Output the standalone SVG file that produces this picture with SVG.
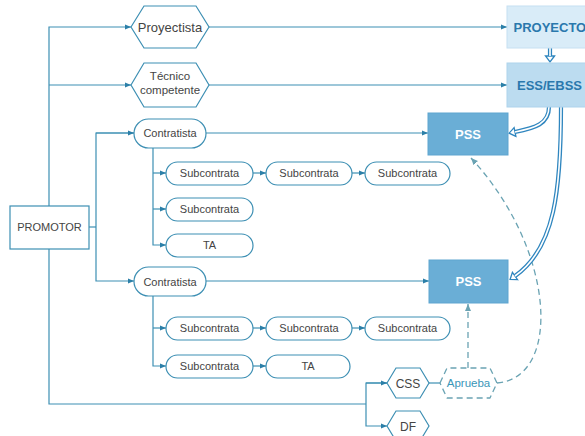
<svg xmlns="http://www.w3.org/2000/svg" width="585" height="436" viewBox="0 0 585 436">
<style>
.n{fill:#fff;stroke:#3d8fb3;stroke-width:1.2}
.t{font-family:"Liberation Sans",Arial,sans-serif;fill:#444;text-anchor:middle}
.b{font-family:"Liberation Sans",Arial,sans-serif;font-weight:bold;text-anchor:middle}
.c{fill:none;stroke:#3d8fb3;stroke-width:1.2}
.d{fill:none;stroke:#6aa3b3;stroke-width:1.3;stroke-dasharray:6,4}
.dbo{fill:none;stroke:#2f86bf;stroke-width:4.2}
.dbi{fill:none;stroke:#fff;stroke-width:1.6}
</style>
<defs>
<marker id="a" viewBox="0 0 6 6" refX="6" refY="3" markerWidth="6" markerHeight="6" markerUnits="userSpaceOnUse" orient="auto"><path d="M0,0.5 L6,3 L0,5.5 z" fill="#2b7fa8"/></marker>
<marker id="ad" viewBox="0 0 7 7" refX="7" refY="3.5" markerWidth="7" markerHeight="7" markerUnits="userSpaceOnUse" orient="auto"><path d="M0,0.5 L7,3.5 L0,6.5 z" fill="#6aa3b3"/></marker>
<marker id="h" viewBox="-1 -6 9 12" refX="0" refY="0" markerWidth="9" markerHeight="12" markerUnits="userSpaceOnUse" orient="auto"><path d="M0,-4.5 L6,0 L0,4.5 z" fill="#fff" stroke="#2f86bf" stroke-width="1.3" stroke-linejoin="miter"/></marker>
</defs>

<g id="connectors">
<path class="c" d="M49,206 V27 H131" marker-end="url(#a)"/>
<path class="c" d="M49,85 H131" marker-end="url(#a)"/>
<path class="c" d="M209,27 H507" marker-end="url(#a)"/>
<path class="c" d="M209,85 H507" marker-end="url(#a)"/>
<path class="c" d="M89,227 H96"/>
<path class="c" d="M134,133 H96 V281 H134" marker-end="url(#a)"/>
<path class="c" d="M96,133 H134" marker-end="url(#a)"/>
<path class="c" d="M206,133 H428" marker-end="url(#a)"/>
<path class="c" d="M206,281 H429" marker-end="url(#a)"/>
<path class="c" d="M153,148 V245 H166" marker-end="url(#a)"/>
<path class="c" d="M153,173 H166" marker-end="url(#a)"/>
<path class="c" d="M153,209 H166" marker-end="url(#a)"/>
<path class="c" d="M253,173 H266" marker-end="url(#a)"/>
<path class="c" d="M352,173 H365" marker-end="url(#a)"/>
<path class="c" d="M153,296 V366 H166" marker-end="url(#a)"/>
<path class="c" d="M153,328 H166" marker-end="url(#a)"/>
<path class="c" d="M253,328 H266" marker-end="url(#a)"/>
<path class="c" d="M352,328 H365" marker-end="url(#a)"/>
<path class="c" d="M253,366 H266" marker-end="url(#a)"/>
<path class="c" d="M49,249 V404 H366"/>
<path class="c" d="M387,383 H366 V426 H387" marker-end="url(#a)"/>
<path class="c" d="M366,383 H387" marker-end="url(#a)"/>
<path class="c" d="M429,383 H440"/>
<path class="d" d="M468,368 V304" marker-end="url(#ad)"/>
<path class="d" d="M497,383 C562,378 556,250 471,158" marker-end="url(#ad)"/>
<path class="dbo" d="M550,48 V56" marker-end="url(#h)"/>
<path class="dbi" d="M550,47 V56"/>
<path class="dbo" d="M549,107 C549,124 535,128 515,132" marker-end="url(#h)"/>
<path class="dbi" d="M549,106 C549,124 535,128 515,132"/>
<path class="dbo" d="M561,107 C561,190 555,248 515,276" marker-end="url(#h)"/>
<path class="dbi" d="M561,106 C561,190 555,248 515,276"/>
</g>

<g id="promotor"><rect class="n" x="10" y="206" width="79" height="43"/><text class="t" x="49.5" y="231" font-size="11">PROMOTOR</text></g>
<g id="proyectista"><polygon class="n" points="131,27 144,6 196,6 209,27 196,48 144,48"/><text class="t" x="170" y="32" font-size="13">Proyectista</text></g>
<g id="tecnico"><polygon class="n" points="131,85 144,63 196,63 209,85 196,107 144,107"/><text class="t" x="170" y="80" font-size="11.5">Técnico</text><text class="t" x="170" y="94" font-size="11.5">competente</text></g>
<g id="proyecto"><rect x="507" y="6" width="80" height="42" fill="#d9ecf8" stroke="#c6e0f2"/><text class="b" x="549.5" y="32" font-size="13" fill="#2a78ad" text-anchor="start" style="text-anchor:start" dx="-36">PROYECTO</text></g>
<g id="ess"><rect x="507" y="63" width="80" height="44" fill="#bcdcf0" stroke="#aed3ec"/><text class="b" x="549.5" y="90" font-size="13" fill="#2a78ad">ESS/EBSS</text></g>
<g id="pss1"><rect x="428" y="113" width="80" height="42" fill="#6aaed6" stroke="#5ea5d0"/><text class="b" x="468" y="139" font-size="13" fill="#fff">PSS</text></g>
<g id="pss2"><rect x="429" y="260" width="79" height="43" fill="#6aaed6" stroke="#5ea5d0"/><text class="b" x="468.5" y="286" font-size="13" fill="#fff">PSS</text></g>
<g id="contratista1"><rect class="n" x="134" y="119" width="72" height="29" rx="14.5"/><text class="t" x="170" y="137" font-size="11">Contratista</text></g>
<g id="contratista2"><rect class="n" x="134" y="267" width="72" height="29" rx="14.5"/><text class="t" x="170" y="285.5" font-size="11">Contratista</text></g>
<g id="sub1a"><rect class="n" x="166" y="162" width="87" height="23" rx="11.5"/><text class="t" x="209.5" y="177" font-size="11">Subcontrata</text></g>
<g id="sub1b"><rect class="n" x="266" y="162" width="86" height="23" rx="11.5"/><text class="t" x="309" y="177" font-size="11">Subcontrata</text></g>
<g id="sub1c"><rect class="n" x="365" y="162" width="85" height="23" rx="11.5"/><text class="t" x="407.5" y="177" font-size="11">Subcontrata</text></g>
<g id="sub1d"><rect class="n" x="166" y="198" width="87" height="23" rx="11.5"/><text class="t" x="209.5" y="213" font-size="11">Subcontrata</text></g>
<g id="ta1"><rect class="n" x="166" y="234" width="87" height="23" rx="11.5"/><text class="t" x="209.5" y="249" font-size="11">TA</text></g>
<g id="sub2a"><rect class="n" x="166" y="317" width="87" height="23" rx="11.5"/><text class="t" x="209.5" y="332" font-size="11">Subcontrata</text></g>
<g id="sub2b"><rect class="n" x="266" y="317" width="86" height="23" rx="11.5"/><text class="t" x="309" y="332" font-size="11">Subcontrata</text></g>
<g id="sub2c"><rect class="n" x="365" y="317" width="85" height="23" rx="11.5"/><text class="t" x="407.5" y="332" font-size="11">Subcontrata</text></g>
<g id="sub2d"><rect class="n" x="166" y="355" width="87" height="23" rx="11.5"/><text class="t" x="209.5" y="370" font-size="11">Subcontrata</text></g>
<g id="ta2"><rect class="n" x="266" y="355" width="84" height="23" rx="11.5"/><text class="t" x="308" y="370" font-size="11">TA</text></g>
<g id="css"><polygon class="n" points="387,383 396,368 420,368 429,383 420,398 396,398"/><text class="t" x="408" y="387.5" font-size="12">CSS</text></g>
<g id="df"><polygon class="n" points="387,426 396,411 420,411 429,426 420,441 396,441"/><text class="t" x="408" y="430.5" font-size="12">DF</text></g>
<g id="aprueba"><polygon points="440,383 447,368 490,368 497,383 490,398 447,398" fill="#fff" stroke="#6aa3b3" stroke-width="1.3" stroke-dasharray="6,4" stroke-linejoin="round"/><text class="t" x="468.5" y="387" font-size="11.5" style="fill:#3a96b8">Aprueba</text></g>
</svg>
